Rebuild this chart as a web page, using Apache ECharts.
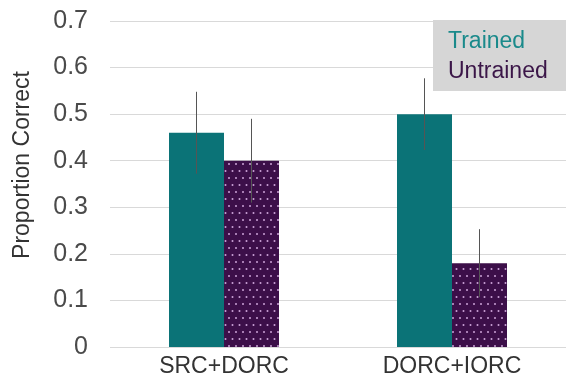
<!DOCTYPE html>
<html>
<head>
<meta charset="utf-8">
<script src="https://cdn.jsdelivr.net/npm/echarts@6/dist/echarts.min.js"></script>
<style>
html, body { margin: 0; padding: 0; background: #fff; }
#chart { width: 566px; height: 379px; }
</style>
</head>
<body>
<div id="chart"></div>
<script>
// Categories and group values
const categories = ['SRC+DORC', 'DORC+IORC'];
const trained = [0.46, 0.50];
const trainedErr = [0.088, 0.077];
const untrained = [0.40, 0.18];
const untrainedErr = [0.09, 0.073];
const yTicks = [0, 0.1, 0.2, 0.3, 0.4, 0.5, 0.6, 0.7];

const TEAL = '#0b7377';
const PURPLE = '#3c0f49';
const BAR_W = 55;
const FONT = '"Liberation Sans", Arial, sans-serif';

// Dotted fill for the untrained bars: staggered light dots on dark purple
function dotPattern() {
  const c = document.createElement('canvas');
  c.width = 7; c.height = 14;
  const g = c.getContext('2d');
  g.fillStyle = PURPLE;
  g.fillRect(0, 0, 7, 14);
  g.fillStyle = 'rgba(220,180,232,0.9)';
  [[1.5, 3], [5, 10]].forEach(([x, y]) => {
    g.beginPath();
    g.arc(x, y, 1.0, 0, Math.PI * 2);
    g.fill();
  });
  return c;
}

// Error whiskers centred on each bar
function errorSeries(name, values, errs, side) {
  return {
    type: 'custom',
    name: name + ' err',
    z: 5,
    silent: true,
    data: values.map((v, i) => [i, v - errs[i], v + errs[i]]),
    renderItem: function (params, api) {
      const lo = api.coord([api.value(0), api.value(1)]);
      const hi = api.coord([api.value(0), api.value(2)]);
      const x = lo[0] + side * BAR_W / 2;
      return {
        type: 'line',
        shape: { x1: x, y1: lo[1], x2: x, y2: hi[1] },
        style: { stroke: '#555', lineWidth: 1 }
      };
    }
  };
}

const chart = echarts.init(document.getElementById('chart'));
chart.setOption({
  animation: false,
  textStyle: { fontFamily: FONT },
  grid: { left: 110, right: 0, top: 21, bottom: 32 },
  legend: {
    orient: 'vertical',
    left: 433,
    top: 20,
    backgroundColor: '#d6d6d6',
    padding: [10, 30, 8, 10],
    icon: 'none',
    itemWidth: 0,
    itemHeight: 23,
    itemGap: 7,
    textStyle: { fontSize: 23, fontFamily: FONT },
    data: [
      { name: 'Trained', textStyle: { color: '#1a8a8b' } },
      { name: 'Untrained', textStyle: { color: '#3b1648' } }
    ]
  },
  xAxis: {
    type: 'category',
    data: categories,
    axisLine: { show: false },
    axisTick: { show: false },
    axisLabel: { fontSize: 23, color: '#333', margin: 8, fontFamily: FONT }
  },
  yAxis: {
    type: 'value',
    min: yTicks[0],
    max: yTicks[yTicks.length - 1],
    interval: 0.1,
    name: 'Proportion Correct',
    nameLocation: 'middle',
    nameGap: 76,
    nameTextStyle: { fontSize: 23, color: '#333', fontFamily: FONT, padding: [0, 0, 0, 38] },
    axisLine: { show: false },
    axisTick: { show: false },
    axisLabel: {
      fontSize: 25, color: '#4a4a4a', margin: 22, fontFamily: FONT,
      formatter: v => (Math.abs(v) < 1e-9 ? '0' : v.toFixed(1))
    },
    splitLine: { lineStyle: { color: '#d9d9d9', width: 1 } }
  },
  series: [
    {
      name: 'Trained', type: 'bar', data: trained,
      barWidth: BAR_W, barGap: '0%',
      itemStyle: { color: TEAL }
    },
    {
      name: 'Untrained', type: 'bar', data: untrained,
      barWidth: BAR_W, barGap: '0%',
      itemStyle: { color: { image: dotPattern(), repeat: 'repeat' } }
    },
    errorSeries('Trained', trained, trainedErr, -1),
    errorSeries('Untrained', untrained, untrainedErr, 1)
  ]
});
</script>
</body>
</html>
